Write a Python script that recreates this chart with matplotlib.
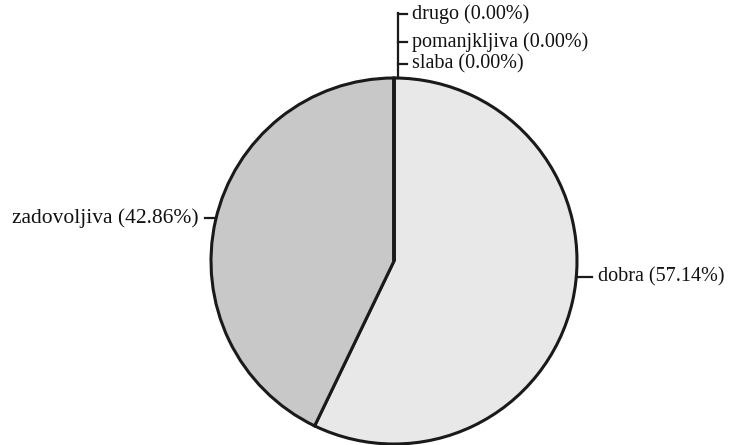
import numpy as np
import matplotlib.pyplot as plt

plt.rcParams['font.family'] = ['Liberation Serif', 'DejaVu Serif']

labels = ['dobra', 'zadovoljiva', 'slaba', 'pomanjkljiva', 'drugo']
shares = [57.14, 42.86, 0.0, 0.0, 0.0]
colors = ['#e8e8e8', '#c8c8c8', '#d0d0d0', '#d0d0d0', '#d0d0d0']

cx, cy, r = 394, 184, 183

fig = plt.figure(figsize=(7.31, 4.45), dpi=100)
ax = fig.add_axes([0, 0, 1, 1])

wedges, _ = ax.pie(shares, colors=colors, startangle=90, counterclock=False,
                   center=(cx, cy), radius=r, frame=True,
                   wedgeprops=dict(edgecolor='#1a1a1a', linewidth=2.2))
ax.set_xlim(0, 731)
ax.set_ylim(0, 445)
ax.set_aspect('equal')
ax.axis('off')

# where the leader lines leave the pie (angle in degrees)
leader_ang = {'dobra': -5, 'zadovoljiva': 166.5}
label_fs = {'dobra': 14.5, 'zadovoljiva': 15.5}
leader_len = {'dobra': 16, 'zadovoljiva': 11}

for w, lab, s in zip(wedges, labels, shares):
    if s == 0:
        continue
    a = np.deg2rad(leader_ang[lab])
    ex, ey = cx + r * np.cos(a), cy + r * np.sin(a)
    side = 1 if np.cos(a) > 0 else -1
    x2 = ex + side * leader_len[lab]
    ax.plot([ex, x2], [ey, ey], color='#1a1a1a', lw=1.6)
    ax.text(x2 + side * 6, ey, f'{lab} ({s:.2f}%)', fontsize=label_fs[lab],
            ha='left' if side > 0 else 'right', va='center', color='#111111')

# stacked labels for zero slices at the top
zero = [(lab, s) for lab, s in zip(labels, shares) if s == 0]
lx = cx + 4
top_y = [381, 403, 431]  # slaba, pomanjkljiva, drugo
ax.plot([lx, lx], [cy + r, top_y[-1] + 1], color='#1a1a1a', lw=1.6)
for (lab, s), ty in zip(zero, top_y):
    ax.plot([lx, lx + 9], [ty, ty], color='#1a1a1a', lw=1.6)
    ax.text(lx + 14, ty, f'{lab} ({s:.2f}%)', fontsize=14.5, ha='left',
            va='center', color='#111111')

fig.savefig('out.png', dpi=100)
